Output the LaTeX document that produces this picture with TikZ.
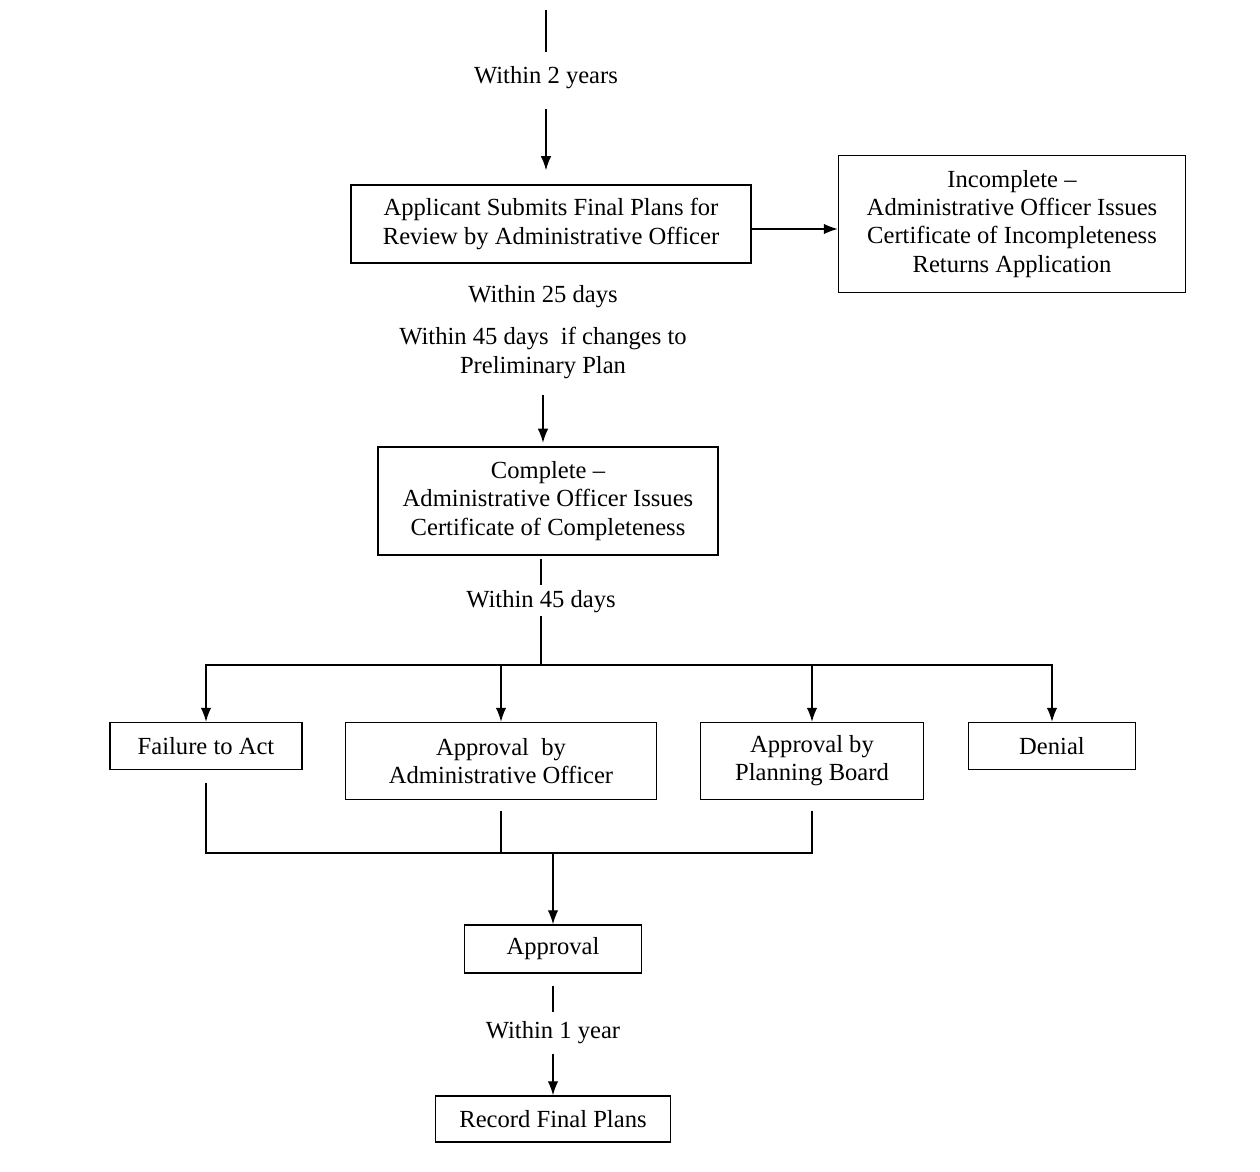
\documentclass[tikz,border=0pt]{standalone}
\usepackage{fontspec}
\setmainfont{Liberation Serif}
\usetikzlibrary{arrows.meta}
\begin{document}
\begin{tikzpicture}[>={Latex[length=8pt,width=6pt]}, x=0.02cm, y=-0.02cm, line width=0.8pt,
  box/.style={draw, align=center, inner sep=2pt},
  lbl/.style={align=center, inner sep=1pt},
  every node/.style={font=\fontsize{14}{16}\selectfont}]
\useasboundingbox (0,0) rectangle (1260,1172);

\coordinate (top) at (546,10);
\node[lbl] (w2y) at (546,78) {Within 2 years};
\node[box, minimum width=8cm, minimum height=1.56cm] (submit) at (551,224) {Applicant Submits Final Plans for\\Review by Administrative Officer};
\node[box, minimum width=6.94cm, minimum height=2.74cm] (incomplete) at (1012,224) {Incomplete --\\Administrative Officer Issues\\Certificate of Incompleteness\\Returns Application};
\node[lbl] (w25) at (543,297) {Within 25 days};
\node[lbl] (w45a) at (543,353) {Within 45 days\ \ if changes to\\Preliminary Plan};
\node[box, minimum width=6.8cm, minimum height=2.16cm] (complete) at (548,501) {Complete --\\Administrative Officer Issues\\Certificate of Completeness};
\node[lbl] (w45b) at (541,602) {Within 45 days};
\coordinate (split) at (541,665);

\node[box, minimum width=3.84cm, minimum height=0.94cm] (fail) at (206,746) {Failure to Act};
\node[box, minimum width=6.22cm, minimum height=1.54cm] (admin) at (501,761) {Approval\ \ by\\Administrative Officer};
\node[box, minimum width=4.46cm, minimum height=1.54cm] (board) at (812,761) {Approval by\\Planning Board};
\node[box, minimum width=3.34cm, minimum height=0.94cm] (denial) at (1052,746) {Denial};

\coordinate (merge) at (553,853);
\node[box, minimum width=3.54cm, minimum height=0.96cm] (approval) at (553,949) {Approval};
\node[lbl] (w1y) at (553,1033) {Within 1 year};
\node[box, minimum width=4.7cm, minimum height=0.92cm] (record) at (553,1119) {Record Final Plans};

\draw[shorten >=7pt] (top) -- (w2y.north);
\draw[->, shorten <=10pt, shorten >=8pt] (w2y) -- (w2y |- submit.north);
\draw[->] (submit.east |- 0,229) -- (incomplete.west |- 0,229);
\draw[->, shorten <=8pt, shorten >=2pt] (w45a.south) -- (w45a.south |- complete.north);
\draw[shorten <=2pt, shorten >=2pt] (complete.south -| split) -- (w45b.north);
\draw (w45b.south) -- (split);

\draw[->] (split) -| (fail.north);
\draw[->] (split) -| (admin.north);
\draw[->] (split) -| (board.north);
\draw[->] (split) -| (denial.north);

\draw[shorten <=7pt] (fail.south) |- (merge);
\draw[shorten <=6pt] (admin.south) -- (admin.south |- merge);
\draw[shorten <=6pt] (board.south) |- (merge);
\draw[->] (merge) -- (approval.north);

\draw[shorten <=7pt, shorten >=4pt] (approval.south) -- (w1y.north);
\draw[->, shorten <=4pt] (w1y.south) -- (record.north);
\end{tikzpicture}
\end{document}
